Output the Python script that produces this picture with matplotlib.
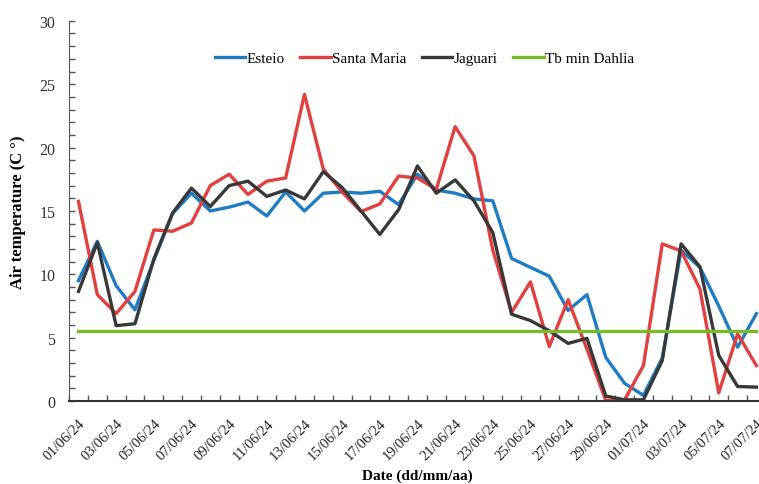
import matplotlib
matplotlib.use('Agg')
import matplotlib.pyplot as plt
from matplotlib.ticker import MultipleLocator, FixedLocator

plt.rcParams['font.family'] = ['Liberation Serif', 'DejaVu Serif']

dates = ['01/06/24', '02/06/24', '03/06/24', '04/06/24', '05/06/24', '06/06/24',
         '07/06/24', '08/06/24', '09/06/24', '10/06/24', '11/06/24', '12/06/24',
         '13/06/24', '14/06/24', '15/06/24', '16/06/24', '17/06/24', '18/06/24',
         '19/06/24', '20/06/24', '21/06/24', '22/06/24', '23/06/24', '24/06/24',
         '25/06/24', '26/06/24', '27/06/24', '28/06/24', '29/06/24', '30/06/24',
         '01/07/24', '02/07/24', '03/07/24', '04/07/24', '05/07/24', '06/07/24',
         '07/07/24']

esteio = [9.5, 12.6, 9.1, 7.2, 11.1, 14.8, 16.4, 15.0, 15.3, 15.7, 14.6, 16.5,
          15.0, 16.4, 16.5, 16.4, 16.55, 15.5, 17.9, 16.65, 16.4, 15.95, 15.8, 11.25,
          10.55, 9.85, 7.15, 8.4, 3.45, 1.4, 0.45, 3.4, 11.9, 10.55, 7.5, 4.25,
          6.9]
santa_maria = [15.75, 8.4, 6.9, 8.65, 13.5, 13.4, 14.05, 17.0, 17.9, 16.3, 17.35, 17.6,
               24.2, 18.3, 16.5, 14.95, 15.55, 17.75, 17.6, 16.7, 21.65, 19.35, 11.9, 7.0,
               9.4, 4.3, 8.0, 4.1, 0.05, 0.1, 2.8, 12.4, 11.85, 8.85, 0.65, 5.3,
               2.8]
jaguari = [8.65, 12.5, 5.95, 6.1, 11.2, 14.85, 16.8, 15.35, 17.0, 17.35, 16.15, 16.65,
           15.95, 18.1, 16.85, 15.0, 13.15, 15.1, 18.55, 16.4, 17.45, 15.8, 13.3, 6.85,
           6.35, 5.55, 4.55, 4.95, 0.4, 0.1, 0.1, 3.2, 12.4, 10.6, 3.6, 1.15,
           1.1]
tb_min = 5.5

x = list(range(len(dates)))

fig = plt.figure(figsize=(7.59, 4.85), dpi=100)
ax = fig.add_axes([0.091, 0.171, 0.918, 0.784])

ax.plot(x, esteio, color='#1f7cc4', lw=2.4, label='Esteio')
ax.plot(x, santa_maria, color='#e0403f', lw=2.4, label='Santa Maria')
ax.plot(x, jaguari, color='#383838', lw=2.4, label='Jaguari')
ax.plot([x[0], x[-1]], [tb_min, tb_min], color='#7ab82e', lw=2.4, label='Tb min Dahlia')

ax.set_xlim(-0.5, len(dates) - 0.5)
ax.set_ylim(0, 30)
ax.yaxis.set_major_locator(MultipleLocator(5))
ax.yaxis.set_minor_locator(MultipleLocator(1))
ax.set_xticks(x[::2])
ax.set_xticklabels(dates[::2], rotation=45, ha='right', rotation_mode='anchor',
                   fontsize=10.5, color='#222222')
ax.xaxis.set_minor_locator(FixedLocator([i - 0.5 for i in range(len(dates) + 1)]))
ax.tick_params(axis='x', which='major', length=0, pad=11)
ax.tick_params(axis='x', which='minor', direction='in', length=4, width=1, color='#555555')
ax.tick_params(axis='y', which='both', direction='in', length=4, width=1, color='#555555',
               labelsize=11.5, labelcolor='#333333', pad=10)

for side in ['top', 'right']:
    ax.spines[side].set_visible(False)
ax.spines['left'].set_color('#555555')
ax.spines['bottom'].set_color('#333333')
ax.spines['bottom'].set_linewidth(1.5)

ax.set_ylabel('Air temperature (C °)', fontsize=12, fontweight='bold', va='center')
ax.yaxis.set_label_coords(-0.074, 0.5)
ax.set_xlabel('Date (dd/mm/aa)', fontsize=11, fontweight='bold', va='center')
ax.xaxis.set_label_coords(0.5, -0.195)

ax.legend(loc='upper center', bbox_to_anchor=(0.51, 0.955), ncol=4, frameon=False,
          fontsize=11, handlelength=2.0, handletextpad=0.1, columnspacing=1.0)

fig.savefig('out.png', dpi=100)
